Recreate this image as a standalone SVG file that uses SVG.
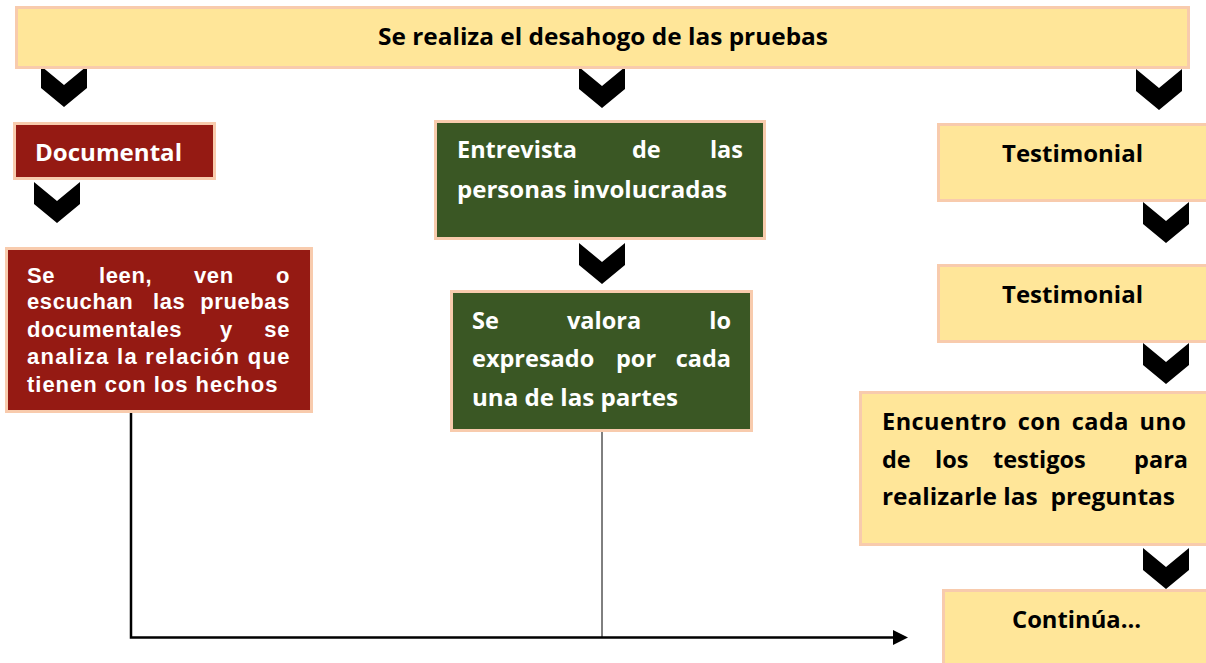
<svg xmlns="http://www.w3.org/2000/svg" width="1206" height="663" viewBox="0 0 1206 663">
<style>
.y{fill:#FFE699;stroke:#F8CBAD;stroke-width:3}
.r{fill:#951A13;stroke:#F8CBAD;stroke-width:3}
.g{fill:#3A5724;stroke:#F8CBAD;stroke-width:3}
.c{font-family:"Open Sans","Noto Sans",sans-serif;font-weight:bold;font-size:23.5px}
.a{font-family:"Liberation Sans",Arial,sans-serif;font-weight:bold;font-size:22px;letter-spacing:0.6px;fill:#fff}
.w{fill:#fff}
.k{fill:#000}
.e{text-anchor:end}
.ch{fill:#000}
</style>
<defs>
<polygon id="chev" points="0,0 23,19 46,0 46,22 23,41 0,22"/>
</defs>

<g id="chevrons" class="ch">
<use href="#chev" x="41" y="66"/>
<use href="#chev" x="34" y="182"/>
<use href="#chev" x="579" y="67"/>
<use href="#chev" x="579" y="243"/>
<use href="#chev" x="1136" y="69"/>
<use href="#chev" x="1143" y="202"/>
<use href="#chev" x="1143" y="343"/>
<use href="#chev" x="1143" y="548"/>
</g>

<g id="connectors">
<polyline points="131,413 131,637.5 894,637.5" fill="none" stroke="#000" stroke-width="2.5"/>
<polygon points="893,630 908,637.5 893,645" fill="#000"/>
<line x1="602" y1="432" x2="602" y2="637" stroke="#000" stroke-width="1"/>
</g>

<g id="top">
<rect class="y" x="16.5" y="7.5" width="1172" height="60"/>
<text class="c k" x="378" y="45" textLength="450" lengthAdjust="spacingAndGlyphs">Se realiza el desahogo de las pruebas</text>
</g>

<g id="documental">
<rect class="r" x="14.5" y="123.5" width="200" height="55"/>
<text class="c w" x="35" y="161" textLength="147" lengthAdjust="spacingAndGlyphs">Documental</text>
</g>

<g id="doc-detalle">
<rect class="r" x="6.5" y="248.5" width="305" height="163"/>
<text class="a" x="27" y="283">Se</text>
<text class="a" x="99" y="283">leen,</text>
<text class="a" x="194" y="283">ven</text>
<text class="a e" x="290" y="283">o</text>
<text class="a" x="27" y="309">escuchan</text>
<text class="a" x="153" y="309">las</text>
<text class="a e" x="290" y="309">pruebas</text>
<text class="a" x="27" y="337">documentales</text>
<text class="a" x="220" y="337">y</text>
<text class="a e" x="290" y="337">se</text>
<text class="a" x="27" y="364" textLength="263" lengthAdjust="spacing">analiza la relación que</text>
<text class="a" x="27" y="392" textLength="251" lengthAdjust="spacing">tienen con los hechos</text>
</g>

<g id="entrevista">
<rect class="g" x="435.5" y="121.5" width="329" height="117"/>
<text class="c w" x="457" y="158">Entrevista</text>
<text class="c w" x="632" y="158">de</text>
<text class="c w e" x="743" y="158">las</text>
<text class="c w" x="457" y="198" textLength="270" lengthAdjust="spacingAndGlyphs">personas involucradas</text>
</g>

<g id="valora">
<rect class="g" x="451.5" y="291.5" width="300" height="139"/>
<text class="c w" x="472" y="329">Se</text>
<text class="c w" x="567" y="329">valora</text>
<text class="c w e" x="731" y="329">lo</text>
<text class="c w" x="472" y="367">expresado</text>
<text class="c w" x="616" y="367">por</text>
<text class="c w e" x="731" y="367">cada</text>
<text class="c w" x="472" y="406" textLength="206" lengthAdjust="spacingAndGlyphs">una de las partes</text>
</g>

<g id="testimonial1">
<rect class="y" x="938.5" y="124.5" width="280" height="76"/>
<text class="c k" x="1002" y="162" textLength="141" lengthAdjust="spacingAndGlyphs">Testimonial</text>
</g>

<g id="testimonial2">
<rect class="y" x="938.5" y="265.5" width="280" height="76"/>
<text class="c k" x="1002" y="303" textLength="141" lengthAdjust="spacingAndGlyphs">Testimonial</text>
</g>

<g id="encuentro">
<rect class="y" x="860.5" y="392.5" width="360" height="152"/>
<text class="c k" x="882" y="430" textLength="304" lengthAdjust="spacing" style="word-spacing:4px">Encuentro con cada uno</text>
<text class="c k" x="882" y="468">de</text>
<text class="c k" x="935" y="468">los</text>
<text class="c k" x="993" y="468">testigos</text>
<text class="c k e" x="1188" y="468">para</text>
<text class="c k" x="882" y="505" textLength="293" lengthAdjust="spacingAndGlyphs" style="white-space:pre">realizarle las  preguntas</text>
</g>

<g id="continua">
<rect class="y" x="943.5" y="590.5" width="280" height="80"/>
<text class="c k" x="1012" y="628" textLength="129" lengthAdjust="spacingAndGlyphs">Continúa…</text>
</g>
</svg>
